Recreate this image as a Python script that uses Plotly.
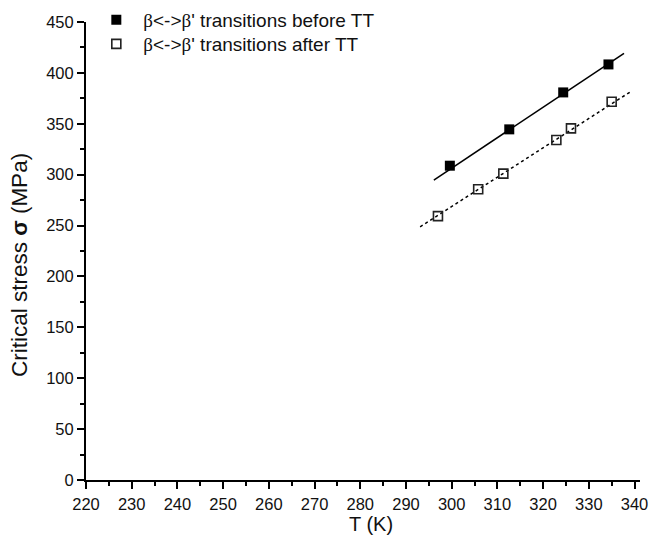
import plotly.graph_objects as go

# Critical stress measurements (beta <-> beta' transitions)
T_before = [299.6, 312.6, 324.4, 334.3]
sigma_before = [308.8, 344.5, 380.8, 408.3]

T_after = [297.0, 305.8, 311.3, 322.9, 326.1, 335.0]
sigma_after = [259.3, 285.6, 301.0, 334.0, 345.5, 371.6]

# Linear fit lines (end points)
fit_T_before = [296.1, 337.7]
fit_sigma_before = [294.7, 419.2]
fit_T_after = [293.1, 339.1]
fit_sigma_after = [248.8, 381.4]

x_ticks = list(range(220, 341, 10))
y_ticks = list(range(0, 451, 50))

FONT = "Liberation Sans, Arial, sans-serif"
BETA = '<span style="font-family:Liberation Serif, Times New Roman, serif">β</span>'

fig = go.Figure()

fig.add_trace(go.Scatter(x=fit_T_before, y=fit_sigma_before, mode="lines",
                         line=dict(color="black", width=1.6), showlegend=False,
                         hoverinfo="skip"))
fig.add_trace(go.Scatter(x=fit_T_after, y=fit_sigma_after, mode="lines",
                         line=dict(color="black", width=1.5, dash="dot"), showlegend=False,
                         hoverinfo="skip"))
fig.add_trace(go.Scatter(x=T_before, y=sigma_before, mode="markers",
                         name=f"{BETA}<->{BETA}' transitions before TT", legend="legend",
                         marker=dict(symbol="square", size=10, color="black",
                                     line=dict(width=0))))
fig.add_trace(go.Scatter(x=T_after, y=sigma_after, mode="markers",
                         name=f"{BETA}<->{BETA}' transitions after TT", legend="legend2",
                         marker=dict(symbol="square-open", size=9, color="#222",
                                     line=dict(width=1.6))))

axis_common = dict(
    showgrid=False, zeroline=False, showline=True, linecolor="black", linewidth=2,
    ticks="outside", ticklen=7, tickwidth=1.5, tickcolor="black",
    tickfont=dict(family=FONT, size=16.5, color="#111"),
    mirror=False, automargin=False,
)

fig.update_xaxes(range=[220, 341.2], tickvals=x_ticks, ticklabelstandoff=1,
                 minor=dict(dtick=5, tick0=220, ticks="outside", ticklen=4, tickwidth=1.5,
                            tickcolor="black"),
                 **axis_common)
fig.update_yaxes(range=[0, 450], tickvals=y_ticks, domain=[0, 0.9542],
                 minor=dict(dtick=25, tick0=0, ticks="outside", ticklen=4, tickwidth=1.5,
                            tickcolor="black"),
                 **axis_common)

# Axis titles
fig.add_annotation(text="T (K)", xref="paper", yref="paper", x=0.514, y=-0.0917,
                   xanchor="center", yanchor="middle", showarrow=False,
                   font=dict(family=FONT, size=20, color="#111"))
fig.add_annotation(text="Critical stress <b>σ</b> (MPa)", xref="paper", yref="paper",
                   x=-0.119, y=0.448, xanchor="center", yanchor="middle", textangle=-90,
                   showarrow=False, font=dict(family=FONT, size=22.5, color="#111"))

legend_common = dict(xanchor="left", yanchor="middle", itemwidth=44,
                     bgcolor="rgba(0,0,0,0)",
                     font=dict(family=FONT, size=19, color="#111"))

fig.update_layout(
    width=654, height=537,
    margin=dict(l=86, r=14, t=0, b=57),
    paper_bgcolor="white", plot_bgcolor="white",
    legend=dict(x=0.006, y=0.9583, **legend_common),
    legend2=dict(x=0.006, y=0.9083, **legend_common),
)

fig.write_html("out.html")
